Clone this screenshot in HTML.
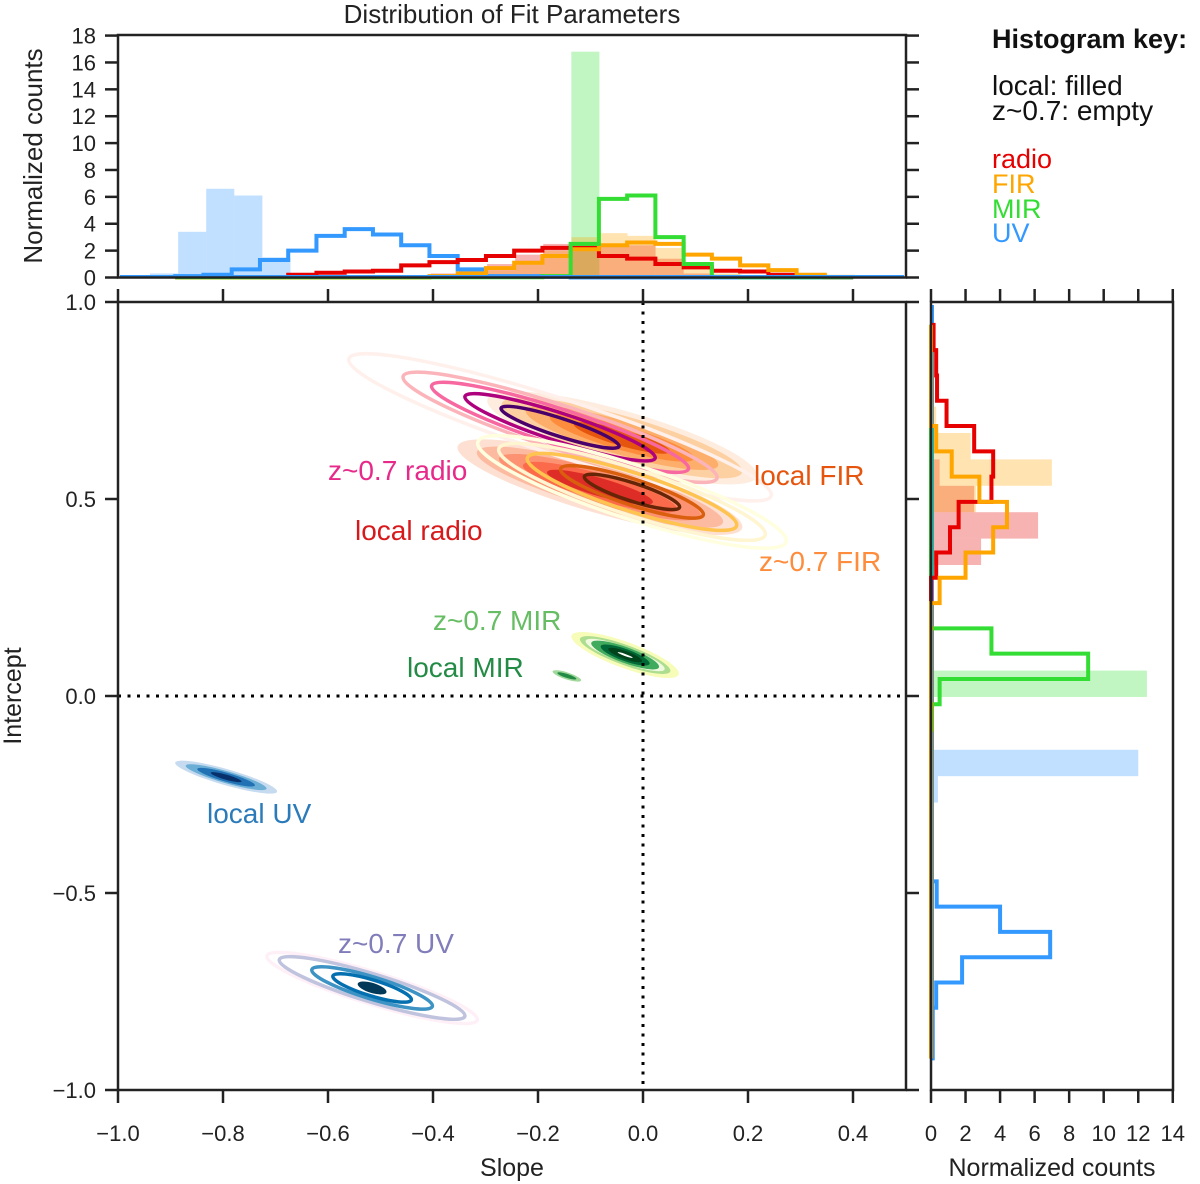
<!DOCTYPE html>
<html><head><meta charset="utf-8">
<style>
html,body{margin:0;padding:0;background:#fff;}
svg{display:block;font-family:"Liberation Sans","DejaVu Sans",sans-serif;}
</style></head>
<body>
<svg id="chart" width="1200" height="1184" viewBox="0 0 1200 1184">
<g id="contours"></g>
<g id="tophist"></g>
<g id="righthist"></g>
<g id="axes"></g>
<g id="texts"></g>
</svg>
<script>
// ---------- data ----------
const zSlopeStart = -0.891, zSlopeWidth = 0.0538;
const zRadioSlope = [0.02,0.02,0.02,0.02,0.2,0.35,0.45,0.5,0.9,1.14,1.3,1.6,2.0,2.2,2.2,1.6,1.4,1.0,0.75,0.5,0.45,0.2,0.05,0.02];
const zFirSlope   = [0,0,0,0,0,0,0,0,0,0.1,0.3,0.7,1.1,1.6,2.1,2.4,2.6,2.5,1.7,1.4,0.9,0.55,0.2,0.05];
const zMirSlope   = [0.02,0.02,0.02,0.02,0.02,0.02,0.02,0.02,0.02,0.02,0.02,0.02,0.02,0.1,2.5,5.85,6.1,3.0,1.0,0.05,0.02,0.02,0.02,0.02];
const zUvSlope    = [0.1,0.2,0.6,1.3,2.0,3.1,3.6,3.2,2.4,1.6,0.6,0.1,0.1,0.05,0,0,0,0,0,0,0,0,0,0];
const localSlopeStart = -0.939, localSlopeWidth = 0.0535;
const localRadioSlope = [0,0,0,0,0,0,0,0,0,0,0.3,0.6,1.0,1.7,2.5,2.5,2.4,2.4,1.4,0.3,0];
const localFirSlope   = [0,0,0,0,0,0,0,0,0,0,0,0,0.5,1.2,2.0,3.0,3.3,3.1,2.2,1.0,0.3];
const localMirSlope   = [0,0,0,0,0,0,0,0,0,0,0,0,0,0,0,16.8,0,0,0,0,0];
const localUvSlope    = [0.3,3.4,6.6,6.1,1.5,0,0,0,0,0,0,0,0,0,0,0,0,0,0,0,0];
const zIntStart = 0.942, zIntWidth = 0.0642;
const zRadioInt = [0.15,0.3,0.35,0.9,2.5,3.6,3.5,1.6,1.1,0.3,0,0,0,0,0,0,0,0,0,0,0,0,0,0,0,0,0,0,0];
const zFirInt   = [0,0,0,0,0.3,1.2,2.8,4.4,3.6,2.0,0.5,0,0,0,0,0,0,0,0,0,0,0,0,0,0,0,0,0,0];
const zMirInt   = [0,0,0,0,0,0,0,0,0,0,0,0,3.5,9.1,0.5,0.05,0,0,0,0,0,0,0,0,0,0,0,0,0];
const zUvInt    = [0,0,0,0,0,0,0,0,0,0,0,0,0,0,0,0,0,0,0,0,0,0,0.33,4.0,6.9,1.8,0.3,0.1,0.1];
const localIntStart = 0.7345, localIntWidth = 0.067;
const localRadioInt = [0,0,0.5,2.5,6.2,2.9,0,0,0,0,0,0,0,0,0];
const localFirInt   = [0.3,2.3,7.0,2.6,0,0,0,0,0,0,0,0,0,0,0];
const localMirInt   = [0,0,0,0,0,0,0,0,0,0,12.5,0,0,0,0];
const localUvInt    = [0,0,0,0,0,0,0,0,0,0,0,0,0,12.0,0.4];
const contourNames = ["local-radio","local-fir","z-radio","z-fir","local-mir","z-mir","local-uv","z-uv"];
const contourSlope = [-0.082,-0.040,-0.158,-0.021,-0.145,-0.034,-0.794,-0.516];
const contourIntercept = [0.53,0.655,0.682,0.518,0.051,0.104,-0.206,-0.741];
const slopeTicks = [-1.0,-0.8,-0.6,-0.4,-0.2,0.0,0.2,0.4];
const interceptTicks = [-1.0,-0.5,0.0,0.5,1.0];
const countTicks = [0,2,4,6,8,10,12,14,16,18];
const rightCountTicks = [0,2,4,6,8,10,12,14];

// ---------- scales ----------
const sx = v => 118 + (v + 1) * 525;
const sy = v => 696 - v * 394;
const hy = v => 277.5 - v * 13.44;
const rx = v => 931 + v * 17.27;
const NS = "http://www.w3.org/2000/svg";
function mk(tag, attrs, parent){const e=document.createElementNS(NS,tag);for(const k in attrs)e.setAttribute(k,attrs[k]);parent.appendChild(e);return e;}
const fmt = v => (v<0?"\u2212":"")+Math.abs(v).toFixed(1);

// ---------- contours ----------
const cg = document.getElementById('contours');
const contourStyles = [
 {ang:16, lv:[[148,26,"#fee0d2",1],[128,21,"#fcbba1",1],[105,17,"#fc9272",1],[80,13,"#fb6a4a",1],[55,9,"#de2d26",1]]},
 {ang:16, lv:[[140,27,"#feedde",1],[125,22,"#fdd0a2",1],[100,17,"#fdae6b",1],[75,12,"#fd8d3c",1],[50,8,"#e6550d",1]]},
 {ang:18, lv:[[222,28,"#fff0ec",0],[165,22,"#fbb4b9",0],[135,18,"#f768a1",0],[100,14,"#ae017e",0],[62,9,"#49006a",0]]},
 {ang:18, lv:[[162,27,"#ffffe0",0],[140,23,"#fff5d0",0],[110,19,"#fec44f",0],[75,13,"#d95f0e",0],[50,9,"#662506",0]]},
 {ang:18, lv:[[15,3.5,"#a1d99b",1],[10,2,"#238b45",1]]},
 {ang:20, lv:[[57,13,"#f7fcb9",1],[48,10,"#addd8e",1],[42,8,"#f0f9e0",1],[36,8,"#41ab5d",1],[26,6,"#006837",1],[18,4,"#00441b",1],[8,1,"#ffffff",1]]},
 {ang:16, lv:[[53,8,"#c6dbef",1],[42,6,"#6baed6",1],[30,4.5,"#2171b5",1],[16,2.5,"#08306b",1]]},
 {ang:17, lv:[[110,16,"#fff0f8",0],[97,14,"#bfc3dd",0],[63,11,"#3d93c4",0],[41,8,"#0570b0",0],[15,5,"#023858",1]]}
];
contourNames.forEach((nm,i)=>{
  const g = mk('g',{transform:`translate(${sx(contourSlope[i])},${sy(contourIntercept[i])}) rotate(${contourStyles[i].ang})`},cg);
  
  
  contourStyles[i].lv.forEach(l=>{
    const e = mk('ellipse',{cx:0,cy:0,rx:l[0],ry:l[1]},g);
    if(l[3]){e.setAttribute('fill',l[2]);e.setAttribute('stroke','none');}
    else{e.setAttribute('fill','none');e.setAttribute('stroke',l[2]);e.setAttribute('stroke-width',3.5);}
    
    
  });
});
const zl1 = mk('line',{x1:118,x2:906,y1:sy(0),y2:sy(0),stroke:'#000','stroke-width':3,'stroke-dasharray':'3,6.5'},cg);


const zl2 = mk('line',{x1:sx(0),x2:sx(0),y1:302,y2:1090,stroke:'#000','stroke-width':3,'stroke-dasharray':'3,6.5'},cg);



// ---------- top histogram ----------
const tg = document.getElementById('tophist');
function topFill(arr,start,w,color,name){
  arr.forEach((v,i)=>{ if(v<=0) return;
    const r = mk('rect',{x:sx(start+i*w),y:hy(v),width:sx(start+(i+1)*w)-sx(start+i*w),height:hy(0)-hy(v),fill:color},tg);
    
    
  });
}
function topStep(arr,start,w,color,name){
  let d = `M${sx(start)},${hy(0)}`;
  arr.forEach((v,i)=>{ d += ` L${sx(start+i*w)},${hy(v)} L${sx(start+(i+1)*w)},${hy(v)}`; });
  d += ` L${sx(start+arr.length*w)},${hy(0)}`;
  const p = mk('path',{d:d,fill:'none',stroke:color,'stroke-width':4},tg);
  
  
}
topFill(localUvSlope,localSlopeStart,localSlopeWidth,'rgba(51,153,255,0.3)','local-uv');
topFill(localMirSlope,localSlopeStart,localSlopeWidth,'rgba(51,221,51,0.3)','local-mir');
topFill(localRadioSlope,localSlopeStart,localSlopeWidth,'rgba(230,0,0,0.3)','local-radio');
topFill(localFirSlope,localSlopeStart,localSlopeWidth,'rgba(255,165,0,0.3)','local-fir');
topStep(zUvSlope,zSlopeStart,zSlopeWidth,'#3399ff','z-uv');
topStep(zRadioSlope,zSlopeStart,zSlopeWidth,'#e60000','z-radio');
topStep(zFirSlope,zSlopeStart,zSlopeWidth,'#ffa500','z-fir');
topStep(zMirSlope,zSlopeStart,zSlopeWidth,'#33dd33','z-mir');
mk('line',{x1:120,x2:904,y1:hy(0)-1.5,y2:hy(0)-1.5,stroke:'#3399ff','stroke-width':2},tg);

// ---------- right histogram ----------
const rg = document.getElementById('righthist');
function rightFill(arr,start,w,color,name){
  arr.forEach((v,i)=>{ if(v<=0) return;
    const y1 = sy(start-i*w), y2 = sy(start-(i+1)*w);
    const r = mk('rect',{x:rx(0),y:y1,width:rx(v)-rx(0),height:y2-y1,fill:color},rg);
    
    
  });
}
function rightStep(arr,start,w,color,name){
  let d = `M${rx(0)},${sy(start)}`;
  arr.forEach((v,i)=>{ d += ` L${rx(v)},${sy(start-i*w)} L${rx(v)},${sy(start-(i+1)*w)}`; });
  d += ` L${rx(0)},${sy(start-arr.length*w)}`;
  const p = mk('path',{d:d,fill:'none',stroke:color,'stroke-width':4},rg);
  
  
}
rightFill(localUvInt,localIntStart,localIntWidth,'rgba(51,153,255,0.3)','local-uv');
rightFill(localMirInt,localIntStart,localIntWidth,'rgba(51,221,51,0.3)','local-mir');
rightFill(localRadioInt,localIntStart,localIntWidth,'rgba(230,0,0,0.3)','local-radio');
rightFill(localFirInt,localIntStart,localIntWidth,'rgba(255,165,0,0.3)','local-fir');
mk('line',{x1:rx(0)+2,x2:rx(0)+2,y1:305,y2:1058,stroke:'#3399ff','stroke-width':2},rg);
rightStep(zUvInt,zIntStart,zIntWidth,'#3399ff','z-uv');
rightStep(zMirInt,zIntStart,zIntWidth,'#33dd33','z-mir');
rightStep(zRadioInt,zIntStart,zIntWidth,'#e60000','z-radio');
rightStep(zFirInt,zIntStart,zIntWidth,'#ffa500','z-fir');

// ---------- axes ----------
const ag = document.getElementById('axes');
function frame(x,y,w,h,name){
  const r = mk('rect',{x:x,y:y,width:w,height:h,fill:'none',stroke:'#222','stroke-width':2.5},ag);
  
  
}
frame(118,35,788,242.5,'top-hist-frame');
frame(118,302,788,788,'main-plot-frame');
frame(931,302,242,788,'right-hist-frame');
function tick(x1,y1,x2,y2){mk('line',{x1:x1,y1:y1,x2:x2,y2:y2,stroke:'#222','stroke-width':2.5},ag);}
function label(txt,x,y,anchor,name){
  const t = mk('text',{x:x,y:y,'text-anchor':anchor,'font-size':22,fill:'#222'},ag);
  t.textContent = txt;
  
  
}
slopeTicks.forEach(v=>{
  const x = sx(v);
  tick(x,1090,x,1103); tick(x,302,x,289);
  label(fmt(v),x,1141,'middle','x-tick-label');
});
interceptTicks.forEach(v=>{
  const y = sy(v);
  tick(118,y,105,y); tick(906,y,919,y);
  label(fmt(v),96,y+8,'end','y-tick-label');
});
countTicks.forEach(v=>{
  const y = hy(v);
  tick(118,y,105,y); tick(906,y,919,y);
  label(String(v),96,y+8,'end','top-hist-count-label');
});
rightCountTicks.forEach(v=>{
  const x = rx(v);
  tick(x,1090,x,1103); tick(x,302,x,289);
  label(String(v),x,1141,'middle','right-hist-count-label');
});

// ---------- texts ----------
const xg = document.getElementById('texts');
function txt(s,x,y,size,color,name,extra){
  const t = mk('text',Object.assign({x:x,y:y,'font-size':size,fill:color},extra||{}),xg);
  t.textContent = s;
  
  
  return t;
}
txt('Distribution of Fit Parameters',512,23,26,'#222','chart-title',{'text-anchor':'middle'});
txt('Normalized counts',42,156,26,'#222','top-y-axis-title',{'text-anchor':'middle',transform:'rotate(-90 42 156)'});
txt('Intercept',21,696,25,'#222','y-axis-title',{'text-anchor':'middle',transform:'rotate(-90 21 696)'});
txt('Slope',512,1176,25,'#222','x-axis-title',{'text-anchor':'middle'});
txt('Normalized counts',1052,1176,25,'#222','right-x-axis-title',{'text-anchor':'middle'});
txt('Histogram key:',992,48,27,'#111','key-title',{'font-weight':'bold'});
txt('local: filled',992,95,28,'#111','key-local');
txt('z~0.7: empty',992,120,28,'#111','key-z');
txt('radio',992,168,27,'#e60000','key-radio');
txt('FIR',992,193,27,'#ffa500','key-fir');
txt('MIR',992,218,27,'#33dd33','key-mir');
txt('UV',992,242,27,'#3399ff','key-uv');
txt('z~0.7 radio',328,480,28,'#e7298a','label-z-radio');
txt('local radio',355,540,28,'#d7191c','label-local-radio');
txt('local FIR',754,485,28,'#e6550d','label-local-fir');
txt('z~0.7 FIR',759,571,28,'#fd8d3c','label-z-fir');
txt('z~0.7 MIR',433,630,28,'#66bd63','label-z-mir');
txt('local MIR',407,677,28,'#238b45','label-local-mir');
txt('local UV',207,823,28,'#2b7bba','label-local-uv');
txt('z~0.7 UV',338,953,28,'#807dba','label-z-uv');
</script>
</body></html>
